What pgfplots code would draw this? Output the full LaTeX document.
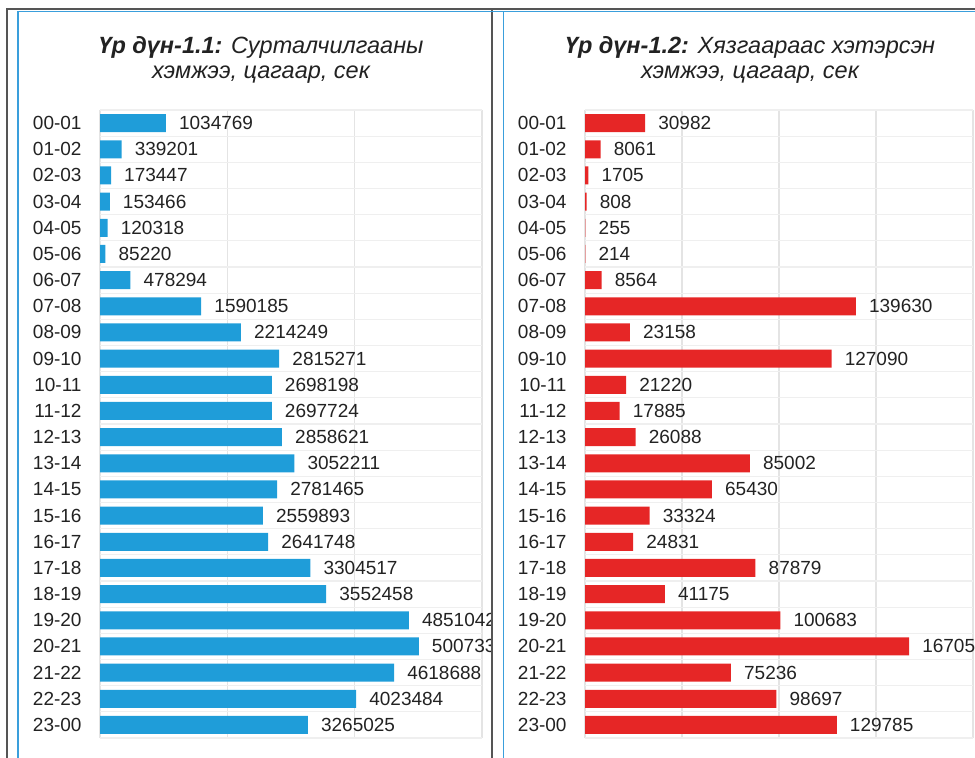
\documentclass[border=0pt]{standalone}
\usepackage{fontspec}
\setmainfont{Liberation Sans}
\usepackage{pgfplots}
\usepackage{pgfplotstable}
\pgfplotsset{compat=1.18}
\definecolor{barblue}{HTML}{1F9DD9}
\definecolor{barred}{HTML}{E62626}
\definecolor{framegray}{HTML}{555555}
\definecolor{frameblue}{HTML}{3A9FDC}
\definecolor{gridgray}{HTML}{E4E4E4}
\definecolor{rowgray}{HTML}{EFEFEF}
\definecolor{txt}{HTML}{222222}
\newcommand{\ticksize}{\fontsize{19}{19}\selectfont}
\newcommand{\titlesize}{\fontsize{23.5}{26}\selectfont}

% seconds of ads per hour
\pgfplotstableread{
cat val
00-01 1034769
01-02 339201
02-03 173447
03-04 153466
04-05 120318
05-06 85220
06-07 478294
07-08 1590185
08-09 2214249
09-10 2815271
10-11 2698198
11-12 2697724
12-13 2858621
13-14 3052211
14-15 2781465
15-16 2559893
16-17 2641748
17-18 3304517
18-19 3552458
19-20 4851042
20-21 5007332
21-22 4618688
22-23 4023484
23-00 3265025
}\adtab

% seconds over the limit per hour
\pgfplotstableread{
cat val
00-01 30982
01-02 8061
02-03 1705
03-04 808
04-05 255
05-06 214
06-07 8564
07-08 139630
08-09 23158
09-10 127090
10-11 21220
11-12 17885
12-13 26088
13-14 85002
14-15 65430
15-16 33324
16-17 24831
17-18 87879
18-19 41175
19-20 100683
20-21 167050
21-22 75236
22-23 98697
23-00 129785
}\overtab

\pgfplotsset{hourbars/.style={
  scale only axis, height=628pt,
  xbar, bar width=18pt, y dir=reverse,
  ymin=-0.5, ymax=23.5, xmin=0,
  ytick={0,...,23},
  minor ytick={-0.5,0.5,...,23.5},
  yminorgrids, xmajorgrids,
  major grid style={gridgray, line width=1.3pt},
  minor grid style={rowgray, line width=1.3pt},
  axis line style={draw=none},
  tick style={draw=none},
  scaled x ticks=false,
  xticklabels={},
  yticklabel style={font=\ticksize, text=txt, inner sep=0pt, xshift=-14pt},
  nodes near coords, point meta=explicit symbolic,
  every node near coord/.append style={font=\ticksize, text=txt, anchor=west, inner sep=0pt, xshift=13pt},
  clip=false,
}}

\begin{document}
\begin{tikzpicture}[x=1pt,y=1pt]
\useasboundingbox (0,0) rectangle (975,758);

\begin{scope}
\clip (0,0) rectangle (491,758);
\begin{axis}[hourbars, at={(100pt,20pt)}, anchor=south west,
  width=382pt, xmax=6000000, xtick={0,2000000,4000000,6000000},
  yticklabels from table={\adtab}{cat}]
  \addplot[fill=barblue, draw=none] table[x=val, y expr=\coordindex, meta=val]{\adtab};
\end{axis}
\end{scope}

\begin{axis}[hourbars, at={(585pt,20pt)}, anchor=south west,
  width=388pt, xmax=200000, xtick={0,50000,100000,150000,200000},
  yticklabels from table={\overtab}{cat}]
  \addplot[fill=barred, draw=none] table[x=val, y expr=\coordindex, meta=val]{\overtab};
\end{axis}

% titles
\node[anchor=base, text=txt, font=\titlesize] at (261,704) {\textbf{\itshape Үр дүн-1.1:} \itshape Сурталчилгааны};
\node[anchor=base, text=txt, font=\titlesize] at (261,679) {\itshape хэмжээ, цагаар, сек};
\node[anchor=base, text=txt, font=\titlesize] at (750,704) {\textbf{\itshape Үр дүн-1.2:} \itshape Хязгаараас хэтэрсэн};
\node[anchor=base, text=txt, font=\titlesize] at (750,679) {\itshape хэмжээ, цагаар, сек};

% panel frames
\draw[framegray, line width=2pt] (6,748.5) -- (975,748.5);
\draw[framegray, line width=2pt] (7,748.5) -- (7,0);
\draw[framegray, line width=2pt] (492,748.5) -- (492,0);
\draw[frameblue, line width=1.5pt] (18,746.5) -- (975,746.5);
\draw[frameblue, line width=1.5pt] (18,746.5) -- (18,0);
\draw[frameblue, line width=1.5pt] (503.5,746.5) -- (503.5,0);
\end{tikzpicture}
\end{document}
